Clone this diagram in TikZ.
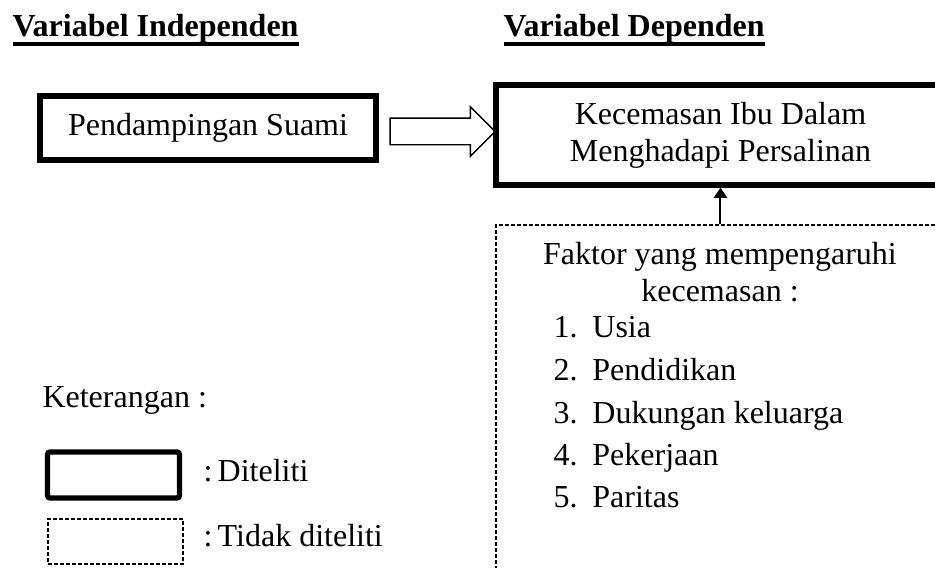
\documentclass[tikz,border=0pt]{standalone}
\usepackage{fontspec}
\setmainfont{Liberation Serif}
\usetikzlibrary{calc,arrows.meta,shapes.arrows}
\newcommand\teks{\fontsize{12}{13.8}\selectfont}
\newcommand\garisbawah[1]{\setbox0\hbox{#1}\rlap{\vrule height -2.05pt depth 3.55pt width \wd0}\box0}
\newcommand\butir[2]{\makebox[14.6pt][l]{#1}#2}
\tikzset{
	kotak/.style={draw, line width=0.7mm, inner sep=0pt},
	putus/.style={draw, line width=0.55pt, dash pattern=on 1.5pt off 0.75pt, inner sep=0pt},
	tulisan/.style={inner sep=0pt, anchor=base west},
	tengah/.style={inner sep=0pt, anchor=base}
}

\begin{document}
\begin{tikzpicture}[x=0.375pt, y=-0.375pt, font=\teks]
		%%%%% START %%%%%
		\useasboundingbox (0, 0) rectangle (935, 568);
		
		\node[tulisan] (judulbebas) at (12, 37) {\garisbawah{\textbf{Variabel Independen}}};
		\node[tulisan] (judulterikat) at (503, 37) {\garisbawah{\textbf{Variabel Dependen}}};
		
		\node[kotak, minimum width=126pt, minimum height=24pt] (suami) at (208, 128) {\raisebox{-0.8pt}{Pendampingan Suami}};
		\node[kotak, minimum width=168.4pt, minimum height=37.5pt, align=center] (cemas) at (720.5, 135) {Kecemasan Ibu Dalam\\Menghadapi Persalinan};
		
		\node[single arrow, draw, line width=0.55pt, inner xsep=0pt, inner ysep=4.7pt, outer sep=0pt,
			minimum height=39.4pt, minimum width=18pt, single arrow head extend=4.3pt,
			single arrow tip angle=90] (panah) at ($(suami.east)!0.5!(cemas.west)$) {};
		
		\node[putus, minimum width=168.4pt, minimum height=140.6pt] (faktor) at (720.5, 412.5) {};
		\draw[-{Triangle[width=4.9pt, length=3.8pt]}, line width=0.75pt] (faktor) -- (cemas);
		
		\node[tengah] (faktorA) at (720, 265) {Faktor yang mempengaruhi};
		\node[tengah] (faktorB) at (720, 302) {kecemasan :};
		\node[tulisan] (usia) at (553, 338) {\butir{1.}{Usia}};
		\node[tulisan] (didik) at (553, 381) {\butir{2.}{Pendidikan}};
		\node[tulisan] (dukung) at (553, 424) {\butir{3.}{Dukungan keluarga}};
		\node[tulisan] (kerja) at (553, 466) {\butir{4.}{Pekerjaan}};
		\node[tulisan] (paritas) at (553, 508) {\butir{5.}{Paritas}};
		
		\node[tulisan] (ket) at (42, 408) {Keterangan :};
		\node[kotak, minimum width=49.5pt, minimum height=17.25pt, rounded corners=1pt] (contohA) at (113.5, 475) {};
		\node[putus, minimum width=50.6pt, minimum height=16.9pt] (contohB) at (115.5, 541.5) {};
		\node[tulisan] (ketA) at (203, 482) {:\hspace{2pt}Diteliti};
		\node[tulisan] (ketB) at (203, 547) {:\hspace{2pt}Tidak diteliti};
		%%%%% END %%%%%
	\end{tikzpicture}
\end{document}
